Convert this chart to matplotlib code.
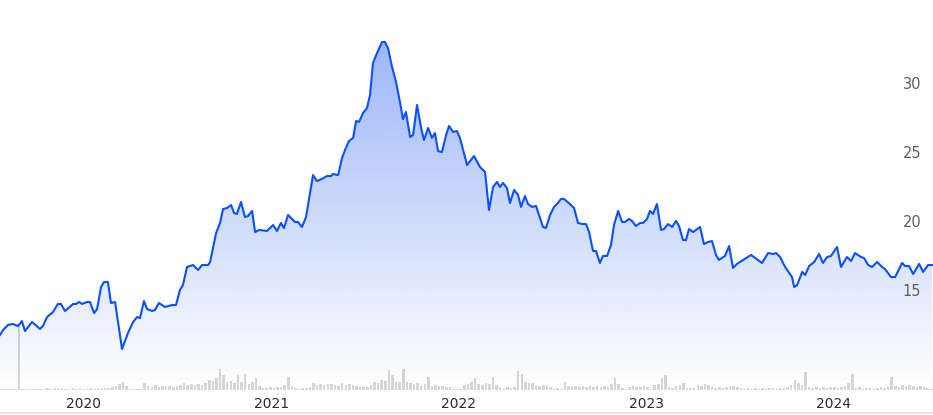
import numpy as np
import matplotlib
matplotlib.use("Agg")
import matplotlib.pyplot as plt
from matplotlib.patches import Polygon
from matplotlib.lines import Line2D

# weekly close, x as decimal year
years = [
    2019.552, 2019.568, 2019.595, 2019.621, 2019.648, 2019.669, 2019.685, 2019.723, 2019.765, 2019.781,
    2019.803, 2019.835, 2019.861, 2019.877, 2019.899, 2019.942, 2019.958, 2019.974, 2019.990, 2020.016,
    2020.032, 2020.054, 2020.070, 2020.091, 2020.107, 2020.128, 2020.144, 2020.166, 2020.203, 2020.235,
    2020.262, 2020.283, 2020.299, 2020.320, 2020.336, 2020.363, 2020.379, 2020.400, 2020.432, 2020.470,
    2020.491, 2020.512, 2020.528, 2020.550, 2020.582, 2020.609, 2020.630, 2020.662, 2020.673, 2020.705,
    2020.726, 2020.742, 2020.763, 2020.785, 2020.801, 2020.816, 2020.838, 2020.859, 2020.875, 2020.897,
    2020.913, 2020.934, 2020.977, 2021.009, 2021.030, 2021.051, 2021.067, 2021.089, 2021.126, 2021.142,
    2021.163, 2021.185, 2021.222, 2021.243, 2021.270, 2021.297, 2021.318, 2021.329, 2021.356, 2021.377,
    2021.393, 2021.414, 2021.436, 2021.452, 2021.468, 2021.489, 2021.510, 2021.526, 2021.542, 2021.564,
    2021.590, 2021.606, 2021.622, 2021.644, 2021.665, 2021.686, 2021.702, 2021.718, 2021.740, 2021.756,
    2021.777, 2021.798, 2021.814, 2021.836, 2021.857, 2021.873, 2021.889, 2021.910, 2021.932, 2021.948,
    2021.969, 2021.990, 2022.006, 2022.044, 2022.081, 2022.113, 2022.140, 2022.161, 2022.183, 2022.204,
    2022.220, 2022.236, 2022.257, 2022.273, 2022.295, 2022.316, 2022.332, 2022.353, 2022.369, 2022.391,
    2022.412, 2022.449, 2022.465, 2022.487, 2022.508, 2022.529, 2022.545, 2022.561, 2022.593, 2022.615,
    2022.636, 2022.658, 2022.679, 2022.695, 2022.716, 2022.732, 2022.753, 2022.769, 2022.791, 2022.812,
    2022.828, 2022.850, 2022.871, 2022.887, 2022.908, 2022.924, 2022.945, 2022.967, 2022.983, 2023.004,
    2023.020, 2023.036, 2023.057, 2023.079, 2023.095, 2023.116, 2023.138, 2023.159, 2023.175, 2023.196,
    2023.212, 2023.228, 2023.250, 2023.287, 2023.308, 2023.330, 2023.351, 2023.372, 2023.388, 2023.420,
    2023.442, 2023.463, 2023.484, 2023.559, 2023.618, 2023.650, 2023.677, 2023.693, 2023.714, 2023.741,
    2023.778, 2023.789, 2023.805, 2023.832, 2023.848, 2023.869, 2023.896, 2023.922, 2023.943, 2023.965,
    2023.986, 2024.018, 2024.039, 2024.071, 2024.093, 2024.114, 2024.146, 2024.162, 2024.184, 2024.205,
    2024.232, 2024.258, 2024.274, 2024.306, 2024.328, 2024.365, 2024.381, 2024.402, 2024.424, 2024.456,
    2024.477, 2024.504, 2024.525,
]
price = [
    11.76, 12.12, 12.49, 12.56, 12.41, 12.77, 12.05, 12.70, 12.20, 12.41,
    13.06, 13.43, 14.01, 14.01, 13.50, 14.01, 14.01, 14.15, 14.01, 14.15,
    14.15, 13.35, 13.64, 15.24, 15.60, 15.60, 14.08, 14.15, 10.75, 11.91,
    12.70, 13.06, 12.99, 14.22, 13.64, 13.50, 13.57, 14.08, 13.79, 13.93,
    13.93, 15.02, 15.38, 16.69, 16.83, 16.47, 16.83, 16.83, 17.05, 19.15,
    19.88, 20.89, 20.96, 21.18, 20.60, 20.53, 21.40, 20.31, 20.38, 20.75,
    19.22, 19.37, 19.30, 19.73, 19.30, 19.88, 19.51, 20.46, 19.95, 19.95,
    19.59, 20.31, 23.35, 22.92, 23.07, 23.28, 23.28, 23.43, 23.35, 24.59,
    25.17, 25.82, 26.04, 27.27, 27.20, 27.85, 28.21, 29.15, 31.47, 32.20,
    32.99, 32.99, 32.56, 31.18, 30.09, 28.64, 27.41, 27.92, 26.11, 26.25,
    28.43, 26.83, 25.89, 26.76, 26.04, 26.40, 25.09, 25.02, 26.25, 26.91,
    26.47, 26.54, 26.04, 24.08, 24.73, 23.93, 23.57, 20.82, 22.49, 22.85,
    22.49, 22.78, 22.41, 21.33, 22.27, 21.91, 21.04, 21.83, 21.25, 21.04,
    21.11, 19.59, 19.51, 20.46, 21.04, 21.33, 21.62, 21.62, 21.25, 20.96,
    19.88, 19.80, 19.80, 19.22, 17.85, 17.85, 16.98, 17.49, 17.49, 18.28,
    19.73, 20.75, 19.95, 19.95, 20.17, 20.02, 19.66, 19.88, 19.88, 20.17,
    20.75, 20.53, 21.25, 19.37, 19.44, 19.80, 19.59, 20.02, 19.66, 18.64,
    18.64, 19.44, 19.22, 19.59, 18.35, 18.50, 18.57, 17.56, 17.20, 17.49,
    18.21, 16.62, 16.91, 17.56, 16.98, 17.70, 17.63, 17.70, 17.41, 16.69,
    15.96, 15.24, 15.38, 16.33, 16.11, 16.76, 17.05, 17.63, 16.98, 17.41,
    17.49, 18.14, 16.69, 17.41, 17.12, 17.70, 17.41, 17.34, 16.83, 16.69,
    17.05, 16.69, 16.54, 15.96, 15.96, 16.98, 16.76, 16.76, 16.18, 16.91,
    16.33, 16.83, 16.83,
]

# weekly volume (relative units), first week starts at vol_start
vol_start = 2019.557
volume = [
    1, 1, 1, 1, 1, 64, 1, 1, 1, 1, 1, 1, 1, 2, 1, 2, 1, 2, 1, 1,
    2, 1, 2, 1, 1, 2, 1, 2, 1, 2, 2, 3, 4, 6, 8, 4, 1, 1, 1, 1,
    7, 4, 3, 5, 3, 4, 3, 4, 3, 4, 5, 7, 5, 6, 5, 6, 5, 7, 10, 9,
    12, 21, 15, 8, 9, 7, 15, 8, 16, 6, 8, 12, 4, 2, 2, 3, 2, 3, 3, 5,
    13, 3, 2, 1, 2, 2, 3, 7, 5, 6, 5, 6, 6, 5, 4, 7, 5, 6, 5, 4,
    3, 3, 3, 5, 8, 7, 10, 9, 20, 15, 8, 8, 21, 8, 7, 6, 7, 4, 6, 13,
    4, 5, 4, 4, 3, 3, 1, 1, 1, 5, 6, 8, 12, 6, 5, 7, 6, 13, 5, 3,
    2, 3, 2, 3, 19, 16, 8, 7, 7, 5, 4, 5, 4, 3, 1, 2, 1, 8, 4, 3,
    4, 3, 4, 3, 4, 3, 4, 3, 4, 3, 6, 12, 6, 2, 1, 3, 4, 3, 3, 4,
    3, 1, 5, 6, 12, 15, 3, 2, 4, 5, 7, 2, 2, 2, 5, 4, 6, 5, 3, 2,
    3, 2, 3, 3, 4, 3, 2, 1, 2, 1, 2, 1, 2, 1, 2, 2, 1, 2, 2, 3,
    5, 10, 7, 5, 18, 3, 2, 3, 2, 3, 2, 3, 3, 2, 3, 4, 7, 16, 2, 3,
    1, 2, 2, 1, 2, 3, 2, 3, 13, 4, 3, 5, 4, 5, 4, 3, 4, 3, 2, 1,
]
year_ticks = [2020, 2021, 2022, 2023, 2024]
price_ticks = [15, 20, 25, 30]

LINE = "#0a50ff"
XMIN, XMAX = 2019.552, 2024.530
YMIN, YMAX = 7.775, 36.036

fig = plt.figure(figsize=(9.33, 4.15), dpi=100)
ax = fig.add_axes([0, 25 / 415, 1, 390 / 415])
axv = ax.twinx()

# volume bars behind the price
vol_x = vol_start + np.arange(len(volume)) * 7 / 365.25
axv.bar(vol_x, volume, width=0.0135, color="#d6d6d6", linewidth=0)
axv.set_ylim(0, max(volume) * 6.1)
axv.set_yticks([])
ax.set_zorder(axv.get_zorder() + 1)
ax.patch.set_visible(False)

# gradient area under the line
xs = np.array(years)
ys = np.array(price)
verts = np.vstack([np.c_[xs, ys], [[xs[-1], YMIN], [xs[0], YMIN]]])
poly = Polygon(verts, closed=True, facecolor="none", edgecolor="none")
ax.add_patch(poly)
grad = np.zeros((256, 1, 4))
grad[..., 0] = 22 / 255
grad[..., 1] = 82 / 255
grad[..., 2] = 240 / 255
grad[..., 3] = np.linspace(0.0, 0.42, 256).reshape(-1, 1)
im = ax.imshow(grad, extent=[XMIN, XMAX, YMIN, ys.max()], origin="lower",
               aspect="auto", zorder=1, interpolation="bilinear")
im.set_clip_path(poly)

ax.plot(xs, ys, color=LINE, linewidth=1.5, zorder=3, solid_joinstyle="round")

ax.set_xlim(XMIN, XMAX)
ax.set_ylim(YMIN, YMAX)
axv.set_xlim(XMIN, XMAX)

ax.yaxis.tick_right()
ax.set_yticks(price_ticks)
ax.set_yticklabels([str(t) for t in price_ticks])
ax.tick_params(axis="y", length=0, pad=-22, labelsize=10.5, labelcolor="#6b5a4c")
ax.set_xticks(year_ticks)
ax.set_xticklabels([str(t) for t in year_ticks])
ax.tick_params(axis="x", length=0, pad=5, labelsize=10, labelcolor="#2a2a38")

for a in (ax, axv):
    for s in a.spines.values():
        s.set_visible(False)

fig.add_artist(Line2D([0, 1], [2 / 415, 2 / 415], color="#e4e4e4", linewidth=1.5))

fig.savefig("out.png", dpi=100)
